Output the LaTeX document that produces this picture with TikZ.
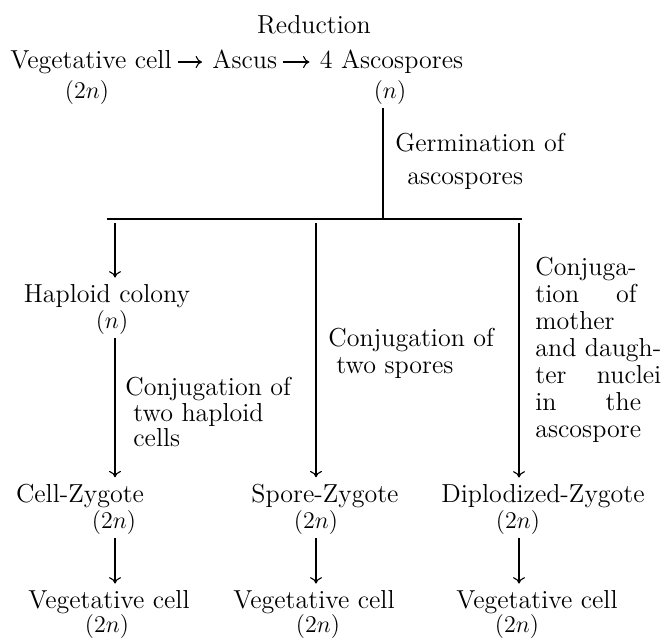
\documentclass[tikz,border=0pt]{standalone}
\usepackage{calc}
\usetikzlibrary{arrows.meta}
\begin{document}
\begin{tikzpicture}[x=0.5pt,y=-0.5pt,
  txt/.style={inner sep=0pt, font=\fontsize{13}{15}\selectfont, anchor=base},
  lbl/.style={inner sep=0pt, align=left, anchor=north west},
  conn/.style={line width=0.55pt},
  tip/.style={-{To[length=3.2pt,width=6pt]}},
  arr/.style={conn, tip, shorten >=3pt, shorten <=2pt}]
\useasboundingbox[fill=white] (0,0) rectangle (670,639);
% top line
\node[txt] (red) at (314,33) {Reduction};
\node[txt, anchor=base west] (veg0) at (10,68) {Vegetative cell};
\node[txt, anchor=base west] (ascus) at ([xshift=20pt]veg0.base east) {Ascus};
\node[txt, anchor=base west] (asp) at ([xshift=21pt]ascus.base east) {4 Ascospores};
\node[txt] (veg0n) at (87,98) {$(2n)$};
\node[txt] (aspn) at (390,98) {$(n)$};
\draw[conn, tip] ([shift={(3pt,3pt)}]veg0.base east) -- ([shift={(-5pt,3pt)}]ascus.base west);
\draw[conn, tip] ([shift={(3pt,3pt)}]ascus.base east) -- ([shift={(-5pt,3pt)}]asp.base west);
% germination
\coordinate (jA) at (383,219);
\draw[conn, shorten <=2pt] (jA |- aspn.south) -- (jA);
\node[lbl, font=\fontsize{13}{16.5}\selectfont] (germ) at (395,133) {Germination of\\\hspace*{6pt}ascospores};
% bar
\coordinate (barL) at (107,219);
\coordinate (barR) at (522,219);
\coordinate (bL) at (115,219);
\coordinate (bM) at (316,219);
\coordinate (bR) at (519,219);
\draw[conn] (barL) -- (barR);
% second row
\node[txt] (hap) at (107,302) {Haploid colony};
\node[txt] (hapn) at (112,328) {$(n)$};
% third row
\node[txt] (cz) at (80,502) {Cell-Zygote};
\node[txt] (czn) at (114,528) {$(2n)$};
\node[txt] (sz) at (325,502) {Spore-Zygote};
\node[txt] (szn) at (316,528) {$(2n)$};
\node[txt] (dz) at (543,502) {Diplodized-Zygote};
\node[txt] (dzn) at (518,528) {$(2n)$};
% bottom row
\node[txt] (v1) at (109,608) {Vegetative cell};
\node[txt] (v1n) at (107,632) {$(2n)$};
\node[txt] (v2) at (314,608) {Vegetative cell};
\node[txt] (v2n) at (318,632) {$(2n)$};
\node[txt] (v3) at (537,608) {Vegetative cell};
\node[txt] (v3n) at (517,632) {$(2n)$};
% labels
\node[lbl, font=\fontsize{13}{12.8}\selectfont] (lab1) at (125,377) {Conjugation of\\\hspace*{4pt}two haploid\\\hspace*{4pt}cells};
\node[lbl, font=\fontsize{13}{13.5}\selectfont] (lab2) at (328,328) {Conjugation of\\\hspace*{4pt}two spores};
\node[lbl, font=\fontsize{13}{13.5}\selectfont] (lab3) at (535,257) {Conjuga-\\\makebox[\widthof{Conjuga-}][s]{tion\hfill of}\\mother\\and daugh-\\\makebox[\widthof{and daugh-}][s]{ter\hfill nuclei}\\\makebox[\widthof{ascospore}][s]{in\hfill the}\\ascospore};
% connectors
\draw[arr] (bL) -- (bL |- hap.north);
\draw[arr] (bL |- hapn.south) -- (bL |- cz.north);
\draw[arr] (bM) -- (bM |- sz.north);
\draw[arr] (bR) -- (bR |- dz.north);
\draw[arr] (bL |- czn.south) -- (bL |- v1.north);
\draw[arr] (bM |- szn.south) -- (bM |- v2.north);
\draw[arr] (bR |- dzn.south) -- (bR |- v3.north);
\end{tikzpicture}
\end{document}
